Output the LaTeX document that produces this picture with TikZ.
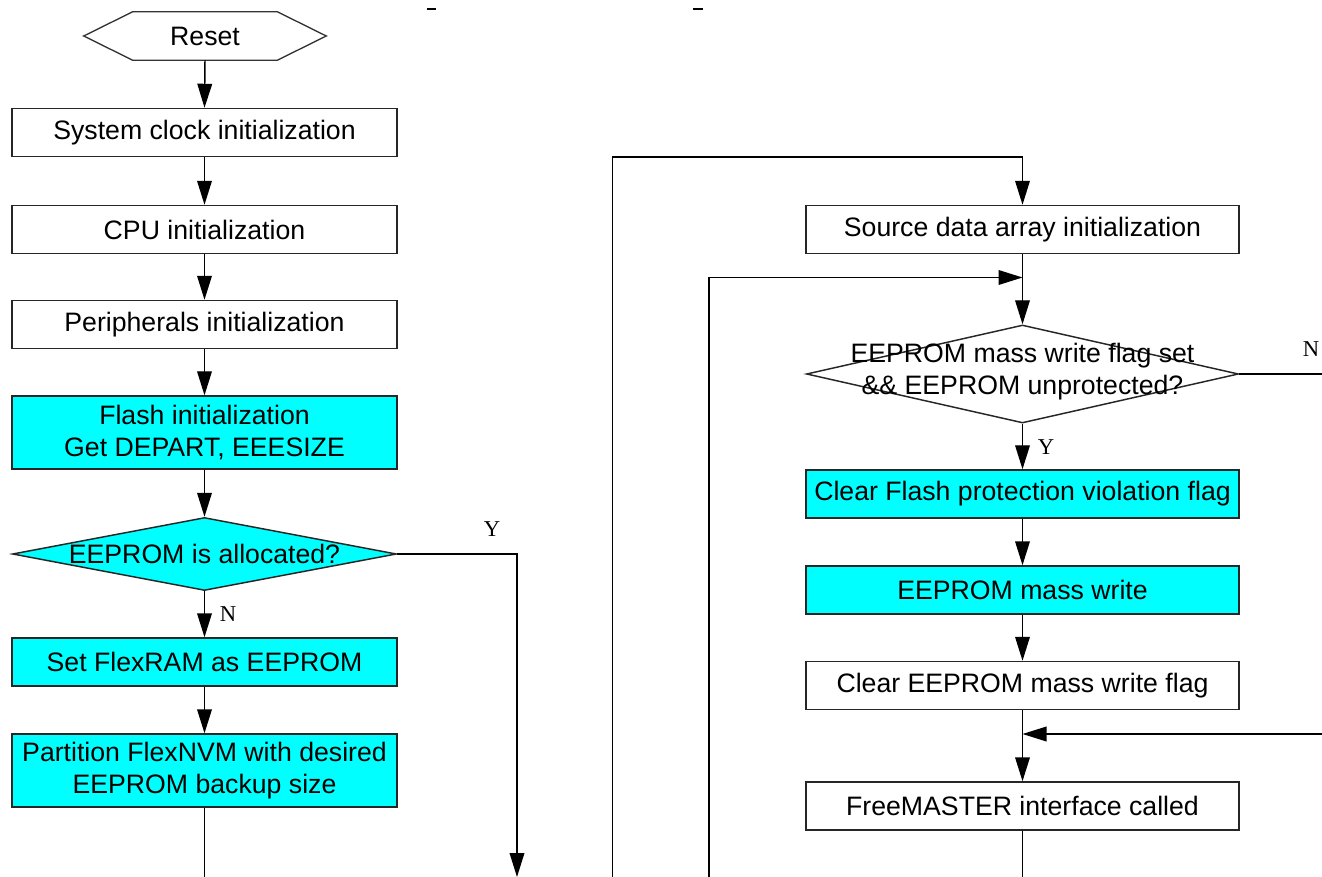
\documentclass[tikz,border=0pt]{standalone}
\usepackage{fontspec}
\setmainfont{Liberation Sans}
\newfontfamily\lblfont{Liberation Serif}
\usetikzlibrary{shapes.geometric,arrows.meta}
\definecolor{aqua}{RGB}{0,255,255}
\begin{document}
\begin{tikzpicture}[x=0.75pt,y=-0.75pt,
  every node/.style={font=\fontsize{20}{24}\selectfont},
  box/.style={draw=black!85,line width=1.1pt,rectangle,inner sep=0pt,align=center,minimum height=36pt},
  lbox/.style={box,minimum width=288.75pt},
  rbox/.style={box,minimum width=324.75pt},
  tall/.style={minimum height=54.75pt},
  hl/.style={fill=aqua},
  dia/.style={diamond,draw=black!85,line width=1.1pt,inner sep=0pt,aspect=1},
  dtext/.style={align=center,inner sep=0pt},
  arr/.style={line width=1.1pt,-{Triangle[length=18pt,width=11pt]}},
  ln/.style={line width=1.1pt},
  yn/.style={font=\lblfont\fontsize{17}{20}\selectfont,inner sep=0pt}]
\useasboundingbox (0,0) rectangle (1322,877);

% caption fragments at the top edge
\draw[line width=1.6pt] (427,8.7) -- (436,8.7);
\draw[line width=1.6pt] (693,8.7) -- (703,8.7);

% ---------- left column ----------
\node[minimum width=181.5pt,minimum height=36pt,inner sep=0pt] (reset) at (205,36) {Reset};
\draw[line width=1pt,draw=black!80] (reset.west) -- ([xshift=36.75pt]reset.north west) -- ([xshift=-36.75pt]reset.north east) -- (reset.east) -- ([xshift=-36.75pt]reset.south east) -- ([xshift=36.75pt]reset.south west) -- cycle;

\node[lbox] (b1) at (204.5,132.5) {System clock initialization};
\node[lbox] (b2) at (204.5,229.5) {CPU initialization};
\node[lbox] (b3) at (204.5,324.5) {Peripherals initialization};
\node[lbox,tall,hl] (b4) at (204.5,432.5) {Flash initialization\\Get DEPART, EEESIZE};
\node[dia,hl,minimum width=288pt,minimum height=54.75pt] (d1) at (204.5,554) {};
\node[dtext] (d1t) at (d1) {EEPROM is allocated?};
\node[lbox,hl] (b5) at (204.5,662) {Set FlexRAM as EEPROM};
\node[lbox,tall,hl] (b6) at (204.5,770.5) {Partition FlexNVM with desired\\EEPROM backup size};

\coordinate (b6end) at (204.5,877);
\coordinate (yend) at (517,877);

\draw[arr] (reset.south) -- (b1.north);
\draw[arr] (b1.south) -- (b2.north);
\draw[arr] (b2.south) -- (b3.north);
\draw[arr] (b3.south) -- (b4.north);
\draw[arr] (b4.south) -- (d1.north);
\draw[arr] (d1.south) -- (b5.north);
\draw[arr] (b5.south) -- (b6.north);
\draw[ln] (b6.south) -- (b6end);
\draw[arr] (d1.east) -| (yend);
\node[yn] (ly1) at (492,529) {Y};
\node[yn] (ln1) at (228,614) {N};

% ---------- right column ----------
\node[rbox] (src) at (1022.5,229.5) {Source data array initialization};
\node[dia,minimum width=324pt,minimum height=73.5pt] (d2) at (1022.5,374) {};
\node[dtext] (d2t) at (1022.5,372) {EEPROM mass write flag set\\\&\& EEPROM unprotected?};
\node[rbox,hl] (cf) at (1022.5,494) {Clear Flash protection violation flag};
\node[rbox,hl] (mw) at (1022.5,590) {EEPROM mass write};
\node[rbox] (ce) at (1022.5,685.5) {Clear EEPROM mass write flag};
\node[rbox] (fm) at (1022.5,806) {FreeMASTER interface called};

\coordinate (c1) at (1022.5,157);
\coordinate (j1) at (1022.5,277.5);
\coordinate (j2) at (1022.5,734);
\coordinate (l1b) at (612.5,877);
\coordinate (l2b) at (709,877);
\coordinate (nend) at (1322,374);
\coordinate (rin) at (1322,734);
\coordinate (fmend) at (1022.5,877);

\draw[arr] (l1b) |- (c1) -- (src.north);
\draw[arr] (l2b) |- (j1);
\draw[arr] (src.south) -- (d2.north);
\draw[ln] (d2.east) -- (nend);
\node[yn] (ln2) at (1311,349) {N};
\draw[arr] (d2.south) -- (cf.north);
\node[yn] (ly2) at (1046,447) {Y};
\draw[arr] (cf.south) -- (mw.north);
\draw[arr] (mw.south) -- (ce.north);
\draw[arr] (ce.south) -- (fm.north);
\draw[arr] (rin) -- (j2);
\draw[ln] (fm.south) -- (fmend);
\end{tikzpicture}
\end{document}
